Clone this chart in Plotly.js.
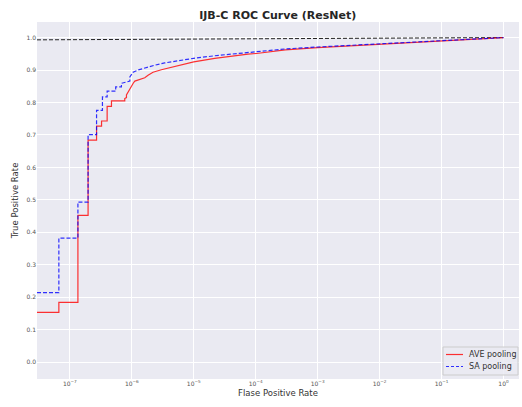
<!DOCTYPE html>
<html>
<head>
<meta charset="utf-8">
<script src="https://cdn.plot.ly/plotly-3.0.1.min.js"></script>
<style>html,body{margin:0;padding:0;background:#fff;}#chart{width:522px;height:407px;}</style>
</head>
<body>
<div id="chart"></div>
<script>
// AVE pooling ROC points (red, solid)
const aveFpr = [2.95e-8, 6.65e-8, 6.65e-8, 1.35e-7, 1.35e-7, 1.97e-7, 1.97e-7, 2.7e-7, 2.7e-7, 3.25e-7, 3.25e-7, 4.0e-7, 4.0e-7, 4.7e-7, 4.7e-7, 7.7e-7, 7.7e-7, 8.2e-7, 8.2e-7, 8.6e-7, 8.95e-7, 9.5e-7, 9.9e-7, 1.06e-6, 1.12e-6, 1.35e-6, 1.62e-6, 1.83e-6, 2.2e-6, 3.0e-6, 4.37e-6, 6.3e-6, 1e-5, 2.18e-5, 4.06e-5, 7.5e-5, 1.03e-4, 1.4e-4, 3e-4, 1e-3, 3e-3, 1e-2, 3e-2, 1e-1, 3e-1, 1];
const aveTpr = [0.153, 0.153, 0.184, 0.184, 0.452, 0.452, 0.684, 0.684, 0.727, 0.727, 0.743, 0.743, 0.788, 0.788, 0.805, 0.805, 0.812, 0.815, 0.823, 0.830, 0.838, 0.845, 0.853, 0.860, 0.866, 0.872, 0.876, 0.884, 0.893, 0.901, 0.908, 0.917, 0.925, 0.936, 0.943, 0.949, 0.951, 0.954, 0.962, 0.969, 0.974, 0.979, 0.984, 0.990, 0.995, 1.0];
// SA pooling ROC points (blue, dashed)
const saFpr = [2.95e-8, 6.65e-8, 6.65e-8, 1.35e-7, 1.35e-7, 1.97e-7, 1.97e-7, 2.7e-7, 2.7e-7, 3.36e-7, 3.36e-7, 4.0e-7, 4.0e-7, 5.5e-7, 5.5e-7, 6.8e-7, 6.8e-7, 8.7e-7, 9.3e-7, 9.3e-7, 1.05e-6, 1.26e-6, 1.62e-6, 2.35e-6, 3.4e-6, 6.3e-6, 1e-5, 2.18e-5, 4.06e-5, 7.5e-5, 1.4e-4, 3e-4, 1e-3, 3e-3, 1e-2, 3e-2, 1e-1, 3e-1, 1];
const saTpr = [0.214, 0.214, 0.382, 0.382, 0.493, 0.493, 0.701, 0.701, 0.776, 0.776, 0.817, 0.817, 0.835, 0.835, 0.848, 0.848, 0.859, 0.864, 0.866, 0.879, 0.893, 0.900, 0.907, 0.915, 0.922, 0.931, 0.936, 0.944, 0.949, 0.954, 0.959, 0.965, 0.971, 0.976, 0.980, 0.985, 0.990, 0.995, 1.0];
// reference dashed line near the top
const refFpr = [2.95e-8, 1];
const refTpr = [0.993, 1.0];

const seriesNames = ['AVE pooling', 'SA pooling'];
const xTickVals = [1e-7, 1e-6, 1e-5, 1e-4, 1e-3, 1e-2, 1e-1, 1];
const xTickText = ['10<sup>\u22127</sup>', '10<sup>\u22126</sup>', '10<sup>\u22125</sup>', '10<sup>\u22124</sup>', '10<sup>\u22123</sup>', '10<sup>\u22122</sup>', '10<sup>\u22121</sup>', '10<sup>0</sup>'];
const yTickVals = [0, 0.1, 0.2, 0.3, 0.4, 0.5, 0.6, 0.7, 0.8, 0.9, 1.0];
const yTickText = ['0.0', '0.1', '0.2', '0.3', '0.4', '0.5', '0.6', '0.7', '0.8', '0.9', '1.0'];

const redCol = 'rgba(255,0,0,0.8)';
const blueCol = 'rgba(0,0,255,0.8)';

const traces = [
  {x: refFpr, y: refTpr, mode: 'lines', line: {color: '#222', width: 1, dash: '4px,2px'}, showlegend: false, hoverinfo: 'skip'},
  {x: aveFpr, y: aveTpr, mode: 'lines', name: seriesNames[0], line: {color: redCol, width: 1.2}},
  {x: saFpr, y: saTpr, mode: 'lines', name: seriesNames[1], line: {color: blueCol, width: 1.2, dash: '4px,2px'}}
];

// custom compact legend (matplotlib-like), in paper coordinates
const W = 522, H = 407, mL = 37, mR = 3, mT = 22, mB = 28;
const pw = W - mL - mR, ph = H - mT - mB;
const px = v => (v - mL) / pw;
const py = v => 1 - (v - mT) / ph;

const shapes = [
  {type: 'rect', xref: 'paper', yref: 'paper', x0: px(443), x1: px(518), y0: py(375), y1: py(347),
   fillcolor: 'rgba(234,234,242,0.85)', line: {color: '#cccccc', width: 1}, layer: 'above'},
  {type: 'line', xref: 'paper', yref: 'paper', x0: px(446), x1: px(463), y0: py(354.5), y1: py(354.5),
   line: {color: redCol, width: 1.2}, layer: 'above'},
  {type: 'line', xref: 'paper', yref: 'paper', x0: px(446), x1: px(463), y0: py(366.5), y1: py(366.5),
   line: {color: blueCol, width: 1.2, dash: '3px,2px'}, layer: 'above'}
];
const annotations = [
  {text: seriesNames[0], xref: 'paper', yref: 'paper', x: px(467), y: py(354.5), xanchor: 'left', yanchor: 'middle', showarrow: false, font: {size: 8, color: '#333'}},
  {text: seriesNames[1], xref: 'paper', yref: 'paper', x: px(467), y: py(366.5), xanchor: 'left', yanchor: 'middle', showarrow: false, font: {size: 8, color: '#333'}}
];

const layout = {
  width: W, height: H,
  margin: {l: mL, r: mR, t: mT, b: mB},
  paper_bgcolor: '#ffffff',
  plot_bgcolor: '#EAEAF2',
  font: {family: 'DejaVu Sans', color: '#333'},
  title: {text: '<b>IJB-C ROC Curve (ResNet)</b>', font: {size: 11, color: '#262626'}, x: 0.532, xanchor: 'center', y: 0.972, yanchor: 'top'},
  xaxis: {
    type: 'log', range: [-7.53, 0.25],
    tickvals: xTickVals, ticktext: xTickText,
    tickfont: {size: 6, color: '#555'},
    showgrid: true, gridcolor: '#ffffff', gridwidth: 1,
    zeroline: false, showline: false, ticks: '', ticklen: 0,
    title: {text: 'Flase Positive Rate', font: {size: 8.5, color: '#333'}, standoff: 4}
  },
  yaxis: {
    range: [-0.052, 1.048],
    tickvals: yTickVals, ticktext: yTickText,
    tickfont: {size: 6, color: '#555'},
    showgrid: true, gridcolor: '#ffffff', gridwidth: 1,
    zeroline: false, showline: false, ticks: '', ticklen: 0,
    title: {text: 'True Positive Rate', font: {size: 8.5, color: '#333'}, standoff: 6}
  },
  showlegend: false,
  shapes: shapes,
  annotations: annotations
};

Plotly.newPlot('chart', traces, layout, {displayModeBar: false, staticPlot: true});
</script>
</body>
</html>
